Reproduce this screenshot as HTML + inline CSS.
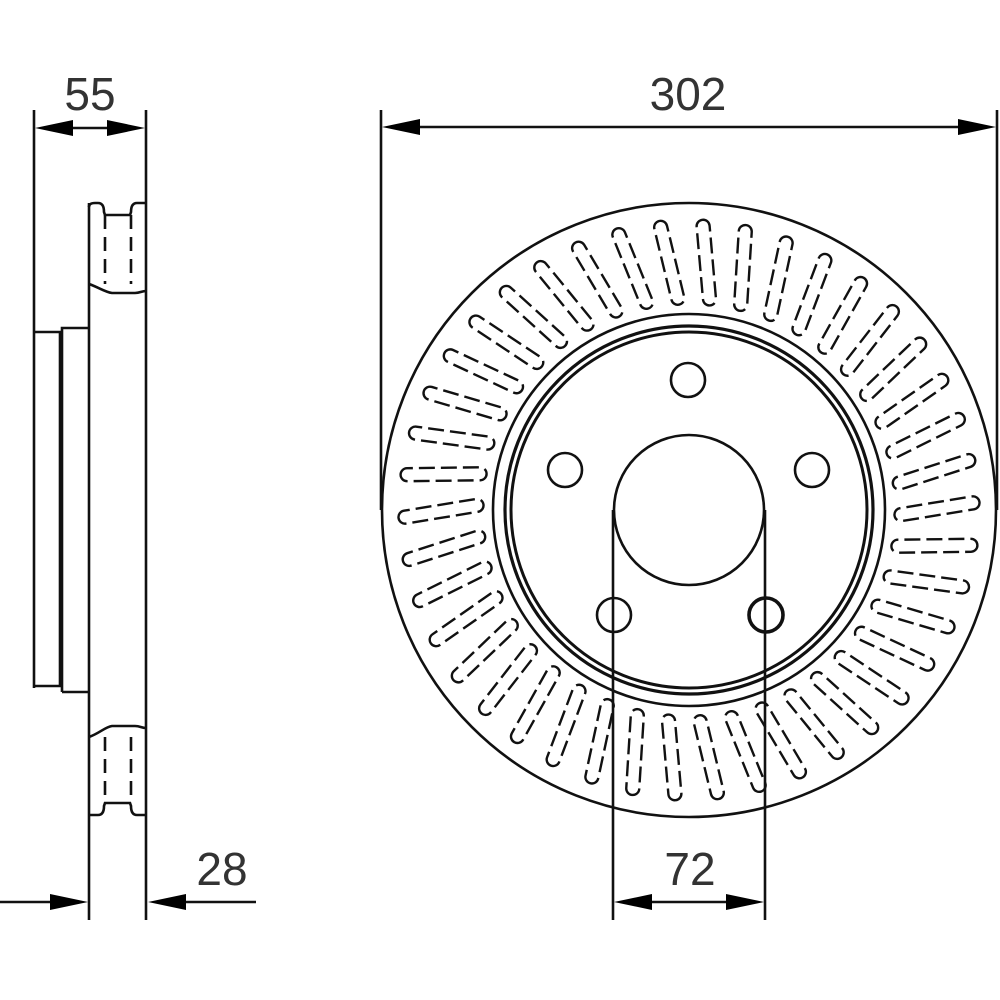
<!DOCTYPE html>
<html><head><meta charset="utf-8"><style>
html,body{margin:0;padding:0;background:#fff;}
svg{display:block;}
text{font-family:"Liberation Sans",sans-serif;fill:#333;}
</style></head><body>
<svg width="1000" height="1000" viewBox="0 0 1000 1000" xmlns="http://www.w3.org/2000/svg" xmlns:xlink="http://www.w3.org/1999/xlink">
<defs>
<g id="vent"><rect x="-6.5" y="-43" width="13" height="86" rx="6.5" fill="none" stroke="#111" stroke-width="2.4" stroke-dasharray="16 6"/></g>
</defs>
<g fill="none" stroke="#111" stroke-width="2.6">
<line x1="34" y1="110" x2="34" y2="688"/>
<line x1="89" y1="203" x2="89" y2="920"/>
<line x1="146" y1="110" x2="146" y2="920"/>
<polyline points="34,332 60,332 60,686 34,686"/>
<polyline points="62,692 62,328 89,328"/>
<polyline points="62,692 89,692"/>
<path d="M89,207 Q89,203 95,203 L98,203 Q104,203 104,212 L105,215 L130,215 L131,212 Q131,203 137,203 L146,203"/>
<line x1="105" y1="215" x2="105" y2="284" stroke-dasharray="14 8"/>
<line x1="131" y1="215" x2="131" y2="284" stroke-dasharray="14 8"/>
<path d="M89,284 C100,288 105,292 112,293 L135,293 C140,293 142,291 146,291"/>
<path d="M89,737 C100,733 105,727 112,726 L135,726 C140,726 142,728 146,728"/>
<line x1="105" y1="737" x2="105" y2="803" stroke-dasharray="14 8"/>
<line x1="131" y1="737" x2="131" y2="803" stroke-dasharray="14 8"/>
<path d="M89,815 L98,815 Q104,815 104,806 L105,803 L130,803 L131,806 Q131,815 137,815 L146,815"/>
<line x1="50" y1="128" x2="130" y2="128"/>
<line x1="0" y1="902" x2="60" y2="902"/>
<line x1="175" y1="902" x2="256" y2="902"/>
<line x1="381" y1="110" x2="381" y2="510"/>
<line x1="997" y1="110" x2="997" y2="510"/>
<line x1="410" y1="127" x2="970" y2="127"/>
<circle cx="689" cy="510" r="307"/>
<circle cx="689" cy="510" r="196"/>
<circle cx="689" cy="510" r="184" stroke-width="3.2"/>
<circle cx="689" cy="510" r="178" stroke-width="3"/>
<circle cx="689" cy="510" r="75"/>
<circle cx="688" cy="380" r="17"/>
<circle cx="565" cy="470" r="17"/>
<circle cx="812" cy="470" r="17"/>
<circle cx="614" cy="615" r="17"/>
<circle cx="766" cy="615" r="17" stroke-width="3.6"/>
<line x1="613" y1="510" x2="613" y2="920"/>
<line x1="765" y1="510" x2="765" y2="920"/>
<line x1="640" y1="902" x2="740" y2="902"/>
</g>
<g>
<use href="#vent" xlink:href="#vent" transform="translate(689 510) rotate(4) translate(0 -248) rotate(-9)"/>
<use href="#vent" xlink:href="#vent" transform="translate(689 510) rotate(12.57) translate(0 -248) rotate(-9)"/>
<use href="#vent" xlink:href="#vent" transform="translate(689 510) rotate(21.14) translate(0 -248) rotate(-9)"/>
<use href="#vent" xlink:href="#vent" transform="translate(689 510) rotate(29.71) translate(0 -248) rotate(-9)"/>
<use href="#vent" xlink:href="#vent" transform="translate(689 510) rotate(38.29) translate(0 -248) rotate(-9)"/>
<use href="#vent" xlink:href="#vent" transform="translate(689 510) rotate(46.86) translate(0 -248) rotate(-9)"/>
<use href="#vent" xlink:href="#vent" transform="translate(689 510) rotate(55.43) translate(0 -248) rotate(-9)"/>
<use href="#vent" xlink:href="#vent" transform="translate(689 510) rotate(64) translate(0 -248) rotate(-9)"/>
<use href="#vent" xlink:href="#vent" transform="translate(689 510) rotate(72.57) translate(0 -248) rotate(-9)"/>
<use href="#vent" xlink:href="#vent" transform="translate(689 510) rotate(81.14) translate(0 -248) rotate(-9)"/>
<use href="#vent" xlink:href="#vent" transform="translate(689 510) rotate(89.71) translate(0 -248) rotate(-9)"/>
<use href="#vent" xlink:href="#vent" transform="translate(689 510) rotate(98.29) translate(0 -248) rotate(-9)"/>
<use href="#vent" xlink:href="#vent" transform="translate(689 510) rotate(106.86) translate(0 -248) rotate(-9)"/>
<use href="#vent" xlink:href="#vent" transform="translate(689 510) rotate(115.43) translate(0 -248) rotate(-9)"/>
<use href="#vent" xlink:href="#vent" transform="translate(689 510) rotate(124) translate(0 -248) rotate(-9)"/>
<use href="#vent" xlink:href="#vent" transform="translate(689 510) rotate(132.57) translate(0 -248) rotate(-9)"/>
<use href="#vent" xlink:href="#vent" transform="translate(689 510) rotate(141.14) translate(0 -248) rotate(-9)"/>
<use href="#vent" xlink:href="#vent" transform="translate(689 510) rotate(149.71) translate(0 -248) rotate(-9)"/>
<use href="#vent" xlink:href="#vent" transform="translate(689 510) rotate(158.29) translate(0 -248) rotate(-9)"/>
<use href="#vent" xlink:href="#vent" transform="translate(689 510) rotate(166.86) translate(0 -248) rotate(-9)"/>
<use href="#vent" xlink:href="#vent" transform="translate(689 510) rotate(175.43) translate(0 -248) rotate(-9)"/>
<use href="#vent" xlink:href="#vent" transform="translate(689 510) rotate(184) translate(0 -248) rotate(-9)"/>
<use href="#vent" xlink:href="#vent" transform="translate(689 510) rotate(192.57) translate(0 -248) rotate(-9)"/>
<use href="#vent" xlink:href="#vent" transform="translate(689 510) rotate(201.14) translate(0 -248) rotate(-9)"/>
<use href="#vent" xlink:href="#vent" transform="translate(689 510) rotate(209.71) translate(0 -248) rotate(-9)"/>
<use href="#vent" xlink:href="#vent" transform="translate(689 510) rotate(218.29) translate(0 -248) rotate(-9)"/>
<use href="#vent" xlink:href="#vent" transform="translate(689 510) rotate(226.86) translate(0 -248) rotate(-9)"/>
<use href="#vent" xlink:href="#vent" transform="translate(689 510) rotate(235.43) translate(0 -248) rotate(-9)"/>
<use href="#vent" xlink:href="#vent" transform="translate(689 510) rotate(244) translate(0 -248) rotate(-9)"/>
<use href="#vent" xlink:href="#vent" transform="translate(689 510) rotate(252.57) translate(0 -248) rotate(-9)"/>
<use href="#vent" xlink:href="#vent" transform="translate(689 510) rotate(261.14) translate(0 -248) rotate(-9)"/>
<use href="#vent" xlink:href="#vent" transform="translate(689 510) rotate(269.71) translate(0 -248) rotate(-9)"/>
<use href="#vent" xlink:href="#vent" transform="translate(689 510) rotate(278.29) translate(0 -248) rotate(-9)"/>
<use href="#vent" xlink:href="#vent" transform="translate(689 510) rotate(286.86) translate(0 -248) rotate(-9)"/>
<use href="#vent" xlink:href="#vent" transform="translate(689 510) rotate(295.43) translate(0 -248) rotate(-9)"/>
<use href="#vent" xlink:href="#vent" transform="translate(689 510) rotate(304) translate(0 -248) rotate(-9)"/>
<use href="#vent" xlink:href="#vent" transform="translate(689 510) rotate(312.57) translate(0 -248) rotate(-9)"/>
<use href="#vent" xlink:href="#vent" transform="translate(689 510) rotate(321.14) translate(0 -248) rotate(-9)"/>
<use href="#vent" xlink:href="#vent" transform="translate(689 510) rotate(329.71) translate(0 -248) rotate(-9)"/>
<use href="#vent" xlink:href="#vent" transform="translate(689 510) rotate(338.29) translate(0 -248) rotate(-9)"/>
<use href="#vent" xlink:href="#vent" transform="translate(689 510) rotate(346.86) translate(0 -248) rotate(-9)"/>
<use href="#vent" xlink:href="#vent" transform="translate(689 510) rotate(355.43) translate(0 -248) rotate(-9)"/>
</g>
<g fill="#000">
<polygon points="35,128 73,120 73,136"/>
<polygon points="145,128 107,120 107,136"/>
<polygon points="88,902 50,894 50,910"/>
<polygon points="148,902 186,894 186,910"/>
<polygon points="382,127 420,119 420,135"/>
<polygon points="996,127 958,119 958,135"/>
<polygon points="614,902 652,894 652,910"/>
<polygon points="764,902 726,894 726,910"/>
</g>
<text x="90" y="110" font-size="46" text-anchor="middle">55</text>
<text x="222" y="885" font-size="46" text-anchor="middle">28</text>
<text x="688" y="110" font-size="46" text-anchor="middle">302</text>
<text x="690" y="885" font-size="46" text-anchor="middle">72</text>
</svg>
</body></html>
